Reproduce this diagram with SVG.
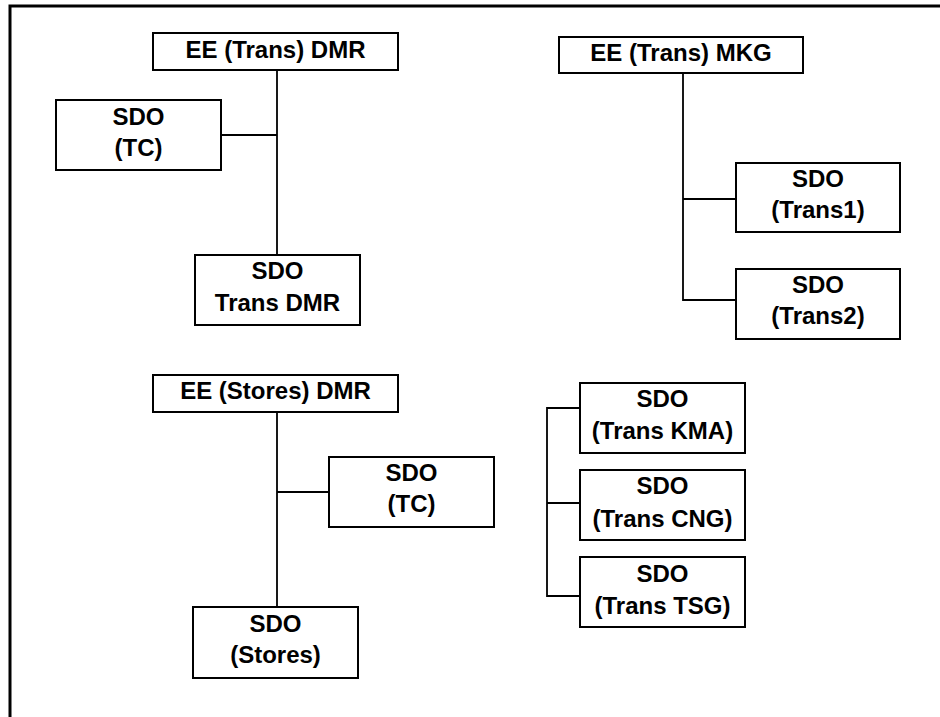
<svg xmlns="http://www.w3.org/2000/svg" width="940" height="717" viewBox="0 0 940 717">
<style>
.box{fill:#fff;stroke:#000;stroke-width:2}
.t{font-family:"Liberation Sans",Arial,sans-serif;font-weight:bold;font-size:24px;text-anchor:middle;fill:#000}
.c{fill:none;stroke:#000;stroke-width:1.8}
</style>
<rect x="0" y="0" width="940" height="717" fill="#fff"/>
<path d="M10,720 V6 H945" fill="none" stroke="#000" stroke-width="3"/>
<g id="connectors">
<path class="c" d="M277,70 V255 M221,135 H277"/>
<path class="c" d="M683,73 V300 H736 M683,199 H736"/>
<path class="c" d="M277,412 V607 M277,492 H329"/>
<path class="c" d="M580,408 H547 V596 H580 M547,503 H580"/>
</g>
<g id="ee-trans-dmr"><rect class="box" x="153" y="33" width="245" height="37"/><text class="t" x="275.5" y="58">EE (Trans) DMR</text></g>
<g id="sdo-tc-1"><rect class="box" x="56" y="100" width="165" height="70"/><text class="t" x="138.5" y="125">SDO</text><text class="t" x="138.5" y="156">(TC)</text></g>
<g id="sdo-trans-dmr"><rect class="box" x="195" y="255" width="165" height="70"/><text class="t" x="277.5" y="279">SDO</text><text class="t" x="277.5" y="311">Trans DMR</text></g>
<g id="ee-trans-mkg"><rect class="box" x="559" y="37" width="244" height="36"/><text class="t" x="681" y="61">EE (Trans) MKG</text></g>
<g id="sdo-trans1"><rect class="box" x="736" y="163" width="164" height="69"/><text class="t" x="818" y="187">SDO</text><text class="t" x="818" y="218">(Trans1)</text></g>
<g id="sdo-trans2"><rect class="box" x="736" y="269" width="164" height="70"/><text class="t" x="818" y="293">SDO</text><text class="t" x="818" y="324">(Trans2)</text></g>
<g id="ee-stores-dmr"><rect class="box" x="153" y="375" width="245" height="37"/><text class="t" x="275.5" y="399">EE (Stores) DMR</text></g>
<g id="sdo-tc-2"><rect class="box" x="329" y="457" width="165" height="70"/><text class="t" x="411.5" y="481">SDO</text><text class="t" x="411.5" y="512">(TC)</text></g>
<g id="sdo-stores"><rect class="box" x="193" y="607" width="165" height="71"/><text class="t" x="275.5" y="632">SDO</text><text class="t" x="275.5" y="663">(Stores)</text></g>
<g id="sdo-trans-kma"><rect class="box" x="580" y="383" width="165" height="70"/><text class="t" x="662.5" y="407">SDO</text><text class="t" x="662.5" y="439">(Trans KMA)</text></g>
<g id="sdo-trans-cng"><rect class="box" x="580" y="470" width="165" height="70"/><text class="t" x="662.5" y="494">SDO</text><text class="t" x="662.5" y="527">(Trans CNG)</text></g>
<g id="sdo-trans-tsg"><rect class="box" x="580" y="557" width="165" height="70"/><text class="t" x="662.5" y="582">SDO</text><text class="t" x="662.5" y="614">(Trans TSG)</text></g>
</svg>
